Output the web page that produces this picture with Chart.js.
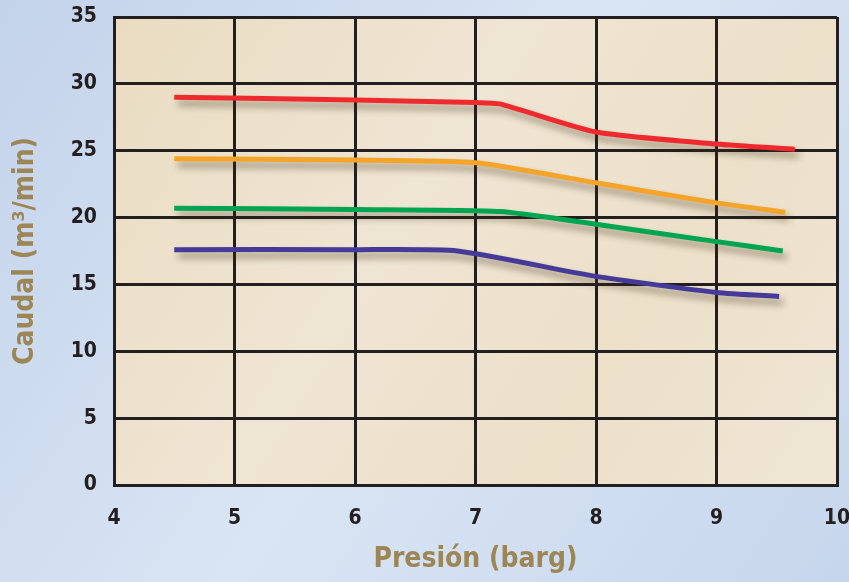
<!DOCTYPE html>
<html>
<head>
<meta charset="utf-8">
<script src="https://cdn.jsdelivr.net/npm/chart.js@4"></script>
<style>
  body { margin: 0; background: #c9d8ec; }
  #wrap { width: 849px; height: 582px; }
</style>
</head>
<body>
<div id="wrap"><canvas id="caudalChart" width="849" height="582"></canvas></div>
<script>
// Presion (barg) / Caudal (m3/min)
const rojoX = [4.5, 6, 7, 7.2, 8, 9, 9.65];
const rojoY = [29.0, 28.8, 28.6, 28.5, 26.4, 25.5, 25.1];
const naranjaX = [4.5, 6, 7, 8, 9, 9.57];
const naranjaY = [24.4, 24.3, 24.1, 22.6, 21.1, 20.4];
const verdeX = [4.5, 6, 7.2, 8, 9, 9.55];
const verdeY = [20.7, 20.6, 20.45, 19.5, 18.2, 17.5];
const moradoX = [4.5, 6, 6.85, 8, 9, 9.52];
const moradoY = [17.6, 17.6, 17.5, 15.6, 14.4, 14.1];

const xTicks = [4, 5, 6, 7, 8, 9, 10];
const yTicks = [0, 5, 10, 15, 20, 25, 30, 35];

const fam = "'Liberation Sans Narrow', 'DejaVu Sans Condensed', sans-serif";
const tickFont = { family: fam, size: 21, weight: 'bold' };
const titleFont = { family: fam, size: 28, weight: 'bold' };
const ink = '#231f20';
const titleColor = '#9c8656';

function toPoints(xs, ys) {
    return xs.map((x, i) => ({ x: x, y: ys[i] }));
}

function serie(xs, ys, color) {
    return {
        data: toPoints(xs, ys),
        borderColor: color,
        borderWidth: 5,
        pointRadius: 0,
        tension: 0.2,
        borderCapStyle: 'butt',
        fill: false
    };
}

// fondo azul + papel beige dentro del area
const fondoPlugin = {
    id: 'fondo',
    beforeDraw(chart) {
        const { ctx, chartArea, width, height } = chart;
        ctx.save();
        let g = ctx.createLinearGradient(0, 0, width, height);
        g.addColorStop(0, '#c3d3ea');
        g.addColorStop(0.5, '#d9e5f4');
        g.addColorStop(1, '#c6d6ec');
        ctx.fillStyle = g;
        ctx.fillRect(0, 0, width, height);
        g = ctx.createLinearGradient(chartArea.left, chartArea.top, chartArea.right, chartArea.bottom);
        g.addColorStop(0, '#e9dcc1');
        g.addColorStop(0.4, '#efe5d3');
        g.addColorStop(0.7, '#ece0c9');
        g.addColorStop(1, '#efe6d5');
        ctx.fillStyle = g;
        ctx.fillRect(chartArea.left, chartArea.top, chartArea.right - chartArea.left, chartArea.bottom - chartArea.top);
        ctx.restore();
    }
};

// sombra debajo de las curvas
const sombraPlugin = {
    id: 'sombra',
    beforeDatasetsDraw(chart) {
        const ctx = chart.ctx;
        ctx.save();
        ctx.shadowColor = 'rgba(60, 45, 20, 0.45)';
        ctx.shadowBlur = 7;
        ctx.shadowOffsetX = 4;
        ctx.shadowOffsetY = 6;
    },
    afterDatasetsDraw(chart) {
        chart.ctx.restore();
    }
};

new Chart(document.getElementById('caudalChart').getContext('2d'), {
    type: 'line',
    data: {
        datasets: [
            serie(rojoX, rojoY, '#ee2a2f'),
            serie(naranjaX, naranjaY, '#f5a42a'),
            serie(verdeX, verdeY, '#00a551'),
            serie(moradoX, moradoY, '#463a98')
        ]
    },
    options: {
        responsive: false,
        animation: false,
        layout: { padding: { left: 0, right: 12, top: 17, bottom: 0 } },
        plugins: {
            legend: { display: false },
            tooltip: { enabled: false }
        },
        scales: {
            x: {
                type: 'linear',
                min: 4,
                max: 10,
                afterBuildTicks(scale) { scale.ticks = xTicks.map(v => ({ value: v })); },
                afterFit(scale) {
                    scale.height = 97;
                    scale.paddingLeft = 0;
                    scale.paddingRight = 0;
                },
                grid: { color: ink, lineWidth: 3, drawTicks: false },
                border: { color: ink, width: 3 },
                ticks: { color: ink, font: tickFont, padding: 21, maxRotation: 0 },
                title: { display: true, text: 'Presión (barg)', color: titleColor, font: titleFont, padding: { top: 0, bottom: 5 } }
            },
            y: {
                min: 0,
                max: 35,
                afterBuildTicks(scale) { scale.ticks = yTicks.map(v => ({ value: v })); },
                afterFit(scale) {
                    scale.width = 114;
                    scale.paddingTop = 0;
                    scale.paddingBottom = 0;
                },
                grid: { color: ink, lineWidth: 3, drawTicks: false },
                border: { color: ink, width: 3 },
                ticks: { color: ink, font: tickFont, padding: 17 },
                title: { display: true, text: 'Caudal (m³/min)', color: titleColor, font: titleFont, padding: { top: 9, bottom: 0 } }
            }
        }
    },
    plugins: [fondoPlugin, sombraPlugin]
});
</script>
</body>
</html>
